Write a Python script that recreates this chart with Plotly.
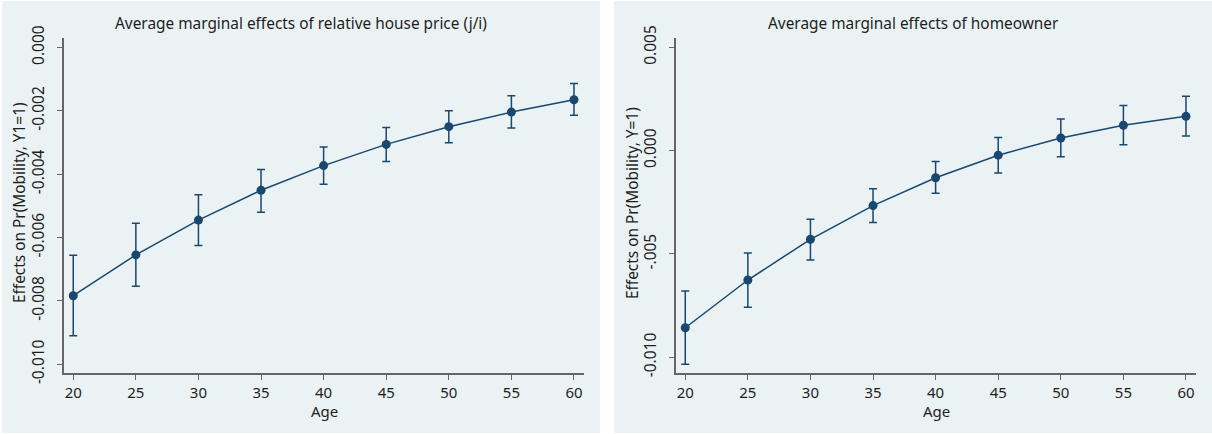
import plotly.graph_objects as go

ages = [20, 25, 30, 35, 40, 45, 50, 55, 60]

# Left panel: relative house price (j/i)
price_me = [-0.00784, -0.00655, -0.00545, -0.00451, -0.00373, -0.00306, -0.00250, -0.00204, -0.00165]
price_hi = [-0.00656, -0.00555, -0.00465, -0.00385, -0.00314, -0.00253, -0.00200, -0.00152, -0.00114]
price_lo = [-0.00910, -0.00754, -0.00625, -0.00520, -0.00432, -0.00360, -0.00301, -0.00254, -0.00214]

# Right panel: homeowner
home_me = [-0.00857, -0.00626, -0.00429, -0.00266, -0.00131, -0.00022, 0.00061, 0.00123, 0.00166]
home_hi = [-0.00679, -0.00495, -0.00332, -0.00185, -0.00053, 0.00063, 0.00153, 0.00218, 0.00263]
home_lo = [-0.01034, -0.00758, -0.00529, -0.00348, -0.00206, -0.00108, -0.00030, 0.00028, 0.00071]

titles = ["Average marginal effects of relative house price (j/i)",
          "Average marginal effects of homeowner"]
ytitles = ["Effects on Pr(Mobility, Y1=1)", "Effects on Pr(Mobility, Y=1)"]
xtitle = "Age"
x_ticks = [20, 25, 30, 35, 40, 45, 50, 55, 60]
left_yticks = [-0.010, -0.008, -0.006, -0.004, -0.002, 0.000]
left_yticktext = ["-0.010", "-0.008", "-0.006", "-0.004", "-0.002", "0.000"]
right_yticks = [-0.010, -0.005, 0.000, 0.005]
right_yticktext = ["-0.010", "-.005", "0.000", "0.005"]

W, H = 1212, 434
NAVY = "#1A476F"
BG = "#EAF2F3"
FONT = "Noto Sans"
TXT = "#1e1e1e"

fig = go.Figure()

def add_series(me, hi, lo, xa, ya):
    fig.add_trace(go.Scatter(
        x=ages, y=me, mode="lines+markers", xaxis=xa, yaxis=ya,
        line=dict(color=NAVY, width=1.5),
        marker=dict(color=NAVY, size=9),
        error_y=dict(type="data", symmetric=False,
                     array=[h - m for h, m in zip(hi, me)],
                     arrayminus=[m - l for m, l in zip(me, lo)],
                     color=NAVY, thickness=1.5, width=4),
        showlegend=False, hoverinfo="x+y"))

add_series(price_me, price_hi, price_lo, "x", "y")
add_series(home_me, home_hi, home_lo, "x2", "y2")

def px(x):
    return x / W

def py(y):
    return 1 - y / H

ydom = [py(373), py(38)]
common_x = dict(range=[19.26, 60.8], tickvals=x_ticks, ticks="outside", ticklen=5,
                tickcolor="#666666", showline=True, linecolor="#666666", linewidth=1.5,
                showgrid=False, zeroline=False, automargin=False,
                tickfont=dict(size=15, color=TXT, family=FONT))
common_y = dict(ticks="outside", ticklen=5, tickcolor="#666666", showline=True,
                linecolor="#666666", linewidth=1.5, showgrid=True, gridcolor=BG, gridwidth=1.5,
                zeroline=False, tickangle=-90, ticklabelstandoff=7, automargin=False,
                tickfont=dict(size=15.5, color=TXT, family=FONT))

fig.update_layout(
    width=W, height=H, margin=dict(l=0, r=0, t=0, b=0, pad=0), autosize=False,
    paper_bgcolor="white", plot_bgcolor="white",
    font=dict(family=FONT, color=TXT),
    xaxis=dict(domain=[px(64), px(584)], anchor="y", **common_x),
    yaxis=dict(domain=ydom, anchor="x", range=[-0.01028, 0.0003],
               tickvals=left_yticks, ticktext=left_yticktext, **common_y),
    xaxis2=dict(domain=[px(676), px(1196)], anchor="y2", **common_x),
    yaxis2=dict(domain=ydom, anchor="x2", range=[-0.01076, 0.00545],
                tickvals=right_yticks, ticktext=right_yticktext, **common_y),
)

# panel backgrounds
for x0, x1 in [(2, 600), (614, 1212)]:
    fig.add_shape(type="rect", xref="paper", yref="paper", layer="below",
                  x0=px(x0), x1=px(x1), y0=py(433), y1=py(1),
                  fillcolor=BG, line=dict(width=0))

annots = []
for cx, t in [(301, titles[0]), (913, titles[1])]:
    annots.append(dict(text=t, x=px(cx), y=py(24), xref="paper", yref="paper",
                       showarrow=False, xanchor="center", yanchor="middle",
                       font=dict(size=15.4, color=TXT, family=FONT)))
for cx, t in [(19, ytitles[0]), (632, ytitles[1])]:
    annots.append(dict(text=t, x=px(cx), y=py(203), xref="paper", yref="paper",
                       showarrow=False, xanchor="center", yanchor="middle", textangle=-90,
                       font=dict(size=15.4, color=TXT, family=FONT)))
for cx in [324, 936]:
    annots.append(dict(text=xtitle, x=px(cx), y=py(411), xref="paper", yref="paper",
                       showarrow=False, xanchor="center", yanchor="middle",
                       font=dict(size=15, color=TXT, family=FONT)))
fig.update_layout(annotations=annots)

fig.write_html("out.html", config={"displayModeBar": False},
               post_script="document.body.style.margin='0';")
